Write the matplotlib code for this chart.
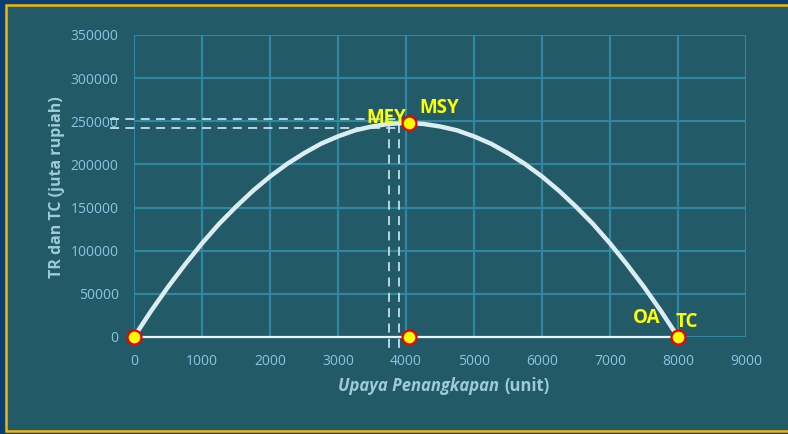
import matplotlib.pyplot as plt
from matplotlib.patches import Rectangle

# effort (unit) and total revenue
effort = [0, 250, 500, 750, 1000, 1250, 1500, 1750, 2000, 2250, 2500, 2750,
          3000, 3250, 3500, 3750, 4000, 4250, 4500, 4750, 5000, 5250, 5500,
          5750, 6000, 6250, 6500, 6750, 7000, 7250, 7500, 7750, 8000]
revenue = [0, 30000, 58000, 84000, 108500, 131000, 151000, 169500, 186000,
           200500, 213000, 224000, 232500, 239500, 244000, 247000, 248000,
           247000, 244000, 239500, 232500, 224000, 213000, 200500, 186000,
           169500, 151000, 131000, 108500, 84000, 58000, 30000, 0]

# total cost line (flat along zero)
tc_effort = [0, 8000]
tc_value = [0, 0]

# key points
pt_x = [0, 4040, 8000, 4040]
pt_y = [0, 0, 0, 248000]

# dashed guide lines
mey_x = [3750, 3900]
mey_y = [253000, 242000]

xticks = [0, 1000, 2000, 3000, 4000, 5000, 6000, 7000, 8000, 9000]
yticks = [0, 50000, 100000, 150000, 200000, 250000, 300000, 350000]

panel = '#235a68'
grid_c = '#2e89a0'
tick_c = '#8cc3e0'
label_c = '#9ecbd8'
curve_c = '#dcedf2'
yellow = '#ffff00'

fig = plt.figure(figsize=(7.88, 4.34), dpi=100, facecolor='#0b3e72')
fig.patches.append(Rectangle((6 / 788, 3 / 434), 1.0, 426 / 434,
                             transform=fig.transFigure, facecolor=panel,
                             edgecolor='#f2b800', linewidth=1.8, zorder=-5))

ax = fig.add_axes([134 / 788, 1 - 337 / 434, 612 / 788, 302 / 434])
ax.set_zorder(2)
ax.set_facecolor(panel)
for s in ax.spines.values():
    s.set_visible(False)

ax.set_xlim(0, 9000)
ax.set_ylim(0, 350000)
ax.set_xticks(xticks)
ax.set_yticks(yticks)
ax.grid(True, color=grid_c, linewidth=1.5)
ax.set_axisbelow(True)
ax.tick_params(length=0, colors=tick_c, labelsize=10)
ax.tick_params(axis='y', pad=11)
ax.tick_params(axis='x', pad=12)
for lbl in ax.get_xticklabels() + ax.get_yticklabels():
    lbl.set_family('Open Sans')

# dashed guides
dash = dict(color='#c3e0ea', linewidth=1.3, linestyle=(0, (5, 3.5)),
            clip_on=False, zorder=2)
for yv in mey_y:
    ax.plot([-350, 3900], [yv, yv], **dash)
for xv in mey_x:
    ax.plot([xv, xv], [247000, -15000], **dash)

ax.plot(tc_effort, tc_value, color='#e8f4f8', linewidth=1.6, clip_on=False, zorder=3)
ax.plot(effort, revenue, color=curve_c, linewidth=3.2, clip_on=False, zorder=3)
ax.plot(pt_x, pt_y, linestyle='none', marker='o', markersize=10,
        markerfacecolor=yellow, markeredgecolor='#ee0000', markeredgewidth=1.6,
        clip_on=False, zorder=5)

lab = dict(color=yellow, fontsize=13.5, fontweight='bold', family='Open Sans')
ax.text(4000, 254000, 'MEY', ha='right', va='center', zorder=4, **lab)
ax.text(4200, 265000, 'MSY', ha='left', va='center', zorder=4, **lab)
ax.text(7740, 22000, 'OA', ha='right', va='center', **lab)
ax.text(7970, 17000, 'TC', ha='left', va='center', **lab)

fig.text(57 / 788, 1 - 187 / 434, 'TR dan TC (juta rupiah)', rotation=90,
         ha='center', va='center', color=label_c, fontsize=11.5,
         fontweight='bold', family='Open Sans')

fig.text(499 / 788, 1 - 386 / 434, 'Upaya Penangkapan', ha='right',
         va='center', color=label_c, fontsize=12, fontweight='bold',
         fontstyle='italic', family='Open Sans')
fig.text(504 / 788, 1 - 386 / 434, '(unit)', ha='left', va='center',
         color=label_c, fontsize=12, fontweight='bold', family='Open Sans')

fig.savefig('out.png', dpi=100, facecolor=fig.get_facecolor())
